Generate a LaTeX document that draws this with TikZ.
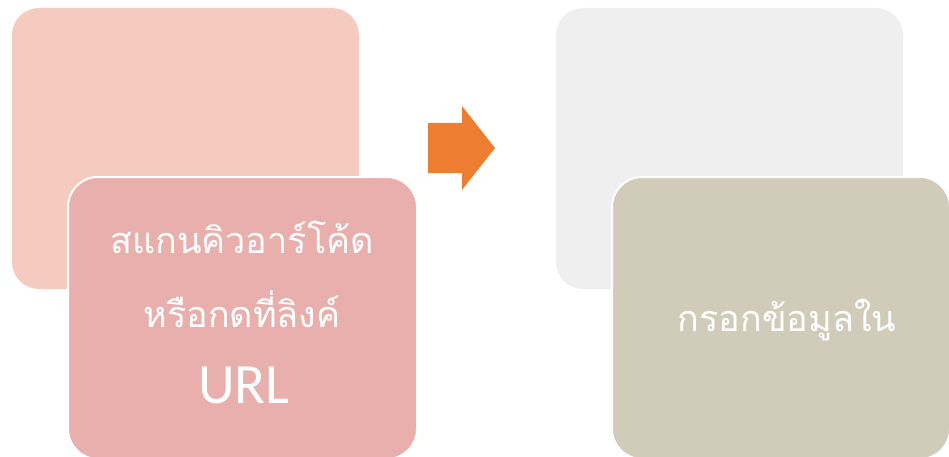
\documentclass[tikz,border=0pt]{standalone}
\usepackage{fontspec}
\setmainfont{Carlito}
\newfontfamily\thaifont[Script=Thai]{Loma}
\definecolor{backA}{HTML}{F5CBBF}
\definecolor{frontA}{HTML}{E9AFAD}
\definecolor{backB}{HTML}{EFEFEF}
\definecolor{frontB}{HTML}{D1CCBA}
\definecolor{arrowC}{HTML}{ED7D31}
\begin{document}
\begin{tikzpicture}[x=1pt,y=-1pt,
  backbox/.style={fill=#1, draw=none, rounded corners=27pt},
  frontbox/.style={fill=#1, draw=white, line width=2pt, rounded corners=30pt},
  thaitext/.style={text=white, font=\thaifont\fontsize{36}{40}\selectfont, anchor=base, inner sep=0pt},
  latintext/.style={text=white, font=\fontsize{57}{60}\selectfont, anchor=base, inner sep=0pt}]
\useasboundingbox (0,0) rectangle (949,457);
% left group
\path[backbox=backA] (12,8) rectangle (359,289);
\path[frontbox=frontA] (68,177) rectangle (417,459);
\node[thaitext] (a1) at (242,253) {สแกนคิวอาร์โค้ด};
\node[thaitext] (a2) at (242,327) {หรือกดที่ลิงค์};
\node[latintext] (a3) at (244,403) {URL};
% arrow
\fill[arrowC] (428,123) -- (462,123) -- (462,106) -- (495,148) -- (462,190) -- (462,173) -- (428,173) -- cycle;
% right group
\path[backbox=backB] (556,8) rectangle (903,289);
\path[frontbox=frontB] (612,177) rectangle (950,459);
\node[thaitext] (b1) at (787,331) {กรอกข้อมูลใน};
\end{tikzpicture}
\end{document}
